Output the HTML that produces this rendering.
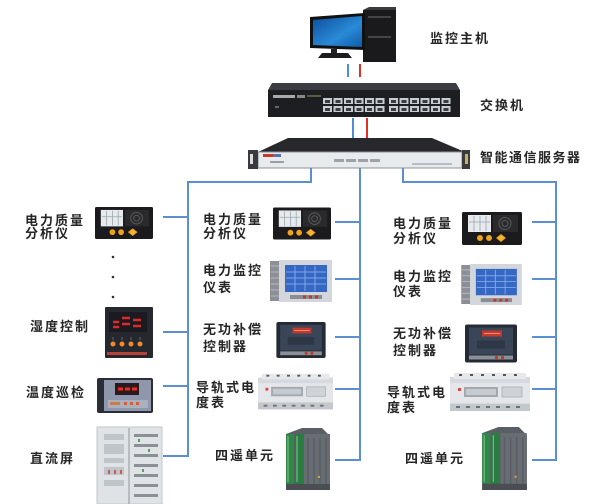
<!DOCTYPE html>
<html><head><meta charset="utf-8"><style>
html,body{margin:0;padding:0;background:#fff;}
svg{display:block;}
.t{font-family:"Liberation Sans","Noto Sans CJK SC",sans-serif;font-size:13px;font-weight:bold;fill:#262626;letter-spacing:2px;}
</style></head><body>
<svg width="613" height="504" viewBox="0 0 613 504" xmlns="http://www.w3.org/2000/svg">
<defs>
<linearGradient id="scr" x1="0" y1="0" x2="1" y2="1"><stop offset="0" stop-color="#0b4f9c"/><stop offset="0.6" stop-color="#2a8ad6"/><stop offset="1" stop-color="#0d5aa8"/></linearGradient>
<symbol id="ana" viewBox="0 0 60 33">
<rect x="0" y="0" width="60" height="33" rx="1.5" fill="#1b1b1d"/>
<rect x="6" y="3" width="23" height="17" fill="#e6eaee"/>
<path d="M12 4v15M18 4v15M24 4v15M7 10h21" stroke="#9aa4ae" stroke-width="0.8"/>
<rect x="31" y="3" width="25" height="17" fill="#2a2a2c"/>
<circle cx="43" cy="11.5" r="6" fill="none" stroke="#5a5a5c" stroke-width="1"/>
<circle cx="43" cy="11.5" r="3" fill="none" stroke="#5a5a5c" stroke-width="1"/>
<circle cx="18" cy="26" r="3" fill="#f0a21e"/>
<circle cx="27" cy="26" r="3" fill="#f0a21e"/>
<path d="M34 26l5-4 5 4-5 4z" fill="#f0a21e"/>
<circle cx="39" cy="26" r="2.5" fill="#f7b531"/>
</symbol>
<symbol id="mon" viewBox="0 0 62 42">
<rect x="0" y="1" width="10" height="40" fill="#8c9096"/>
<path d="M1 6h8M1 12h8M1 18h8M1 24h8M1 30h8M1 36h8" stroke="#b6b9bd" stroke-width="1"/>
<rect x="9" y="0" width="53" height="42" fill="#d3d6da"/>
<rect x="15" y="5" width="42" height="27" fill="#3567c4"/>
<path d="M25 6v25M35 6v25M45 6v25M16 12h40M16 18h40M16 24h40" stroke="#7fa6e6" stroke-width="1"/>
<rect x="20" y="35" width="32" height="4" fill="#8a8d92"/>
<rect x="33" y="35.5" width="3" height="3" fill="#c8352c"/><rect x="39" y="35.5" width="3" height="3" fill="#c8352c"/><rect x="45" y="35.5" width="3" height="3" fill="#c8352c"/>
</symbol>
<symbol id="rea" viewBox="0 0 52 38">
<rect x="0" y="0" width="52" height="38" rx="2" fill="#252b35"/>
<rect x="4" y="3" width="44" height="27" fill="#3a4658"/>
<rect x="17" y="6" width="20" height="6" fill="#c23a2e"/>
<path d="M19 9h16" stroke="#ff8a70" stroke-width="1"/>
<rect x="12" y="16" width="28" height="8" fill="#2d3746"/>
<rect x="4" y="31" width="44" height="4" fill="#8b8f96"/>
<rect x="30" y="31.5" width="3" height="3" fill="#c8352c"/><rect x="36" y="31.5" width="3" height="3" fill="#c8352c"/>
</symbol>
<symbol id="din" viewBox="0 0 80 40">
<rect x="0" y="4" width="80" height="34" fill="#d6d9de"/>
<rect x="4" y="0" width="72" height="6" fill="#e6e8eb"/>
<path d="M9 2h3M20 2h3M31 2h3M42 2h3M53 2h3M64 2h3" stroke="#555" stroke-width="2"/>
<rect x="0" y="10" width="80" height="20" fill="#e4e6e9"/>
<rect x="14" y="14" width="34" height="10" fill="#a3a9b0"/>
<rect x="16" y="16" width="30" height="6" fill="#c7cbd0"/>
<rect x="52" y="14" width="20" height="10" fill="#cfd2d6" stroke="#9aa0a6" stroke-width="0.6"/>
<rect x="8" y="15" width="3" height="3" fill="#d44"/>
<rect x="0" y="31" width="80" height="7" fill="#c4c8cd"/>
<path d="M6 34h4M16 34h4M26 34h4M36 34h4M46 34h4M56 34h4M66 34h4" stroke="#6d7278" stroke-width="2"/>
</symbol>
<symbol id="rtu" viewBox="0 0 48 62">
<path d="M4 6L20 0H40L48 8V62H4Z" fill="#5a5f66"/>
<rect x="22" y="6" width="26" height="56" fill="#686d74"/>
<path d="M26 10v48M32 10v48M38 10v48M44 10v48" stroke="#5a5e64" stroke-width="1.5"/>
<rect x="4" y="6" width="8" height="50" fill="#2f8847"/>
<rect x="13" y="6" width="8" height="50" fill="#2a7c41"/>
<path d="M6 8v46M15 8v46" stroke="#6fbf7f" stroke-width="1.2"/>
<rect x="4" y="56" width="44" height="6" fill="#4a4e54"/>
<rect x="36" y="48" width="2" height="2" fill="#e6a020"/>
</symbol>
</defs>

<!-- computer -->
<rect x="363" y="10" width="33" height="52" fill="#1a1a1c"/>
<path d="M363 10l6-3h27v3z" fill="#3a3a3e"/>
<rect x="368" y="16" width="23" height="2" fill="#444"/>
<rect x="368" y="36" width="23" height="2" fill="#444"/>
<path d="M310 17L365 13V50L310 48Z" fill="#111"/>
<path d="M313 20L362 16V47L313 45Z" fill="url(#scr)"/>
<rect x="331" y="49" width="6" height="6" fill="#222"/>
<path d="M318 58L322 53H348L352 58Z" fill="#1d1d1f"/>
<line x1="348" y1="64" x2="348" y2="77" stroke="#4b8fd8" stroke-width="2"/>
<line x1="360" y1="64" x2="360" y2="77" stroke="#e0302a" stroke-width="2"/>

<!-- switch -->
<path d="M272 83H456L460 90H268Z" fill="#3b3d42"/>
<rect x="268" y="90" width="192" height="27" fill="#1c1e21"/>
<rect x="273" y="95" width="22" height="3" fill="#aaa"/>
<rect x="297" y="95" width="8" height="3" fill="#888"/>
<rect x="307" y="95" width="14" height="2" fill="#5a5c3a"/>
<rect x="275" y="106" width="4" height="2" fill="#666"/>
<g fill="#c9cdd1">
<rect x="323" y="98" width="9" height="6"/><rect x="333.5" y="98" width="9" height="6"/><rect x="344" y="98" width="9" height="6"/><rect x="354.5" y="98" width="9" height="6"/><rect x="365" y="98" width="9" height="6"/><rect x="375.5" y="98" width="9" height="6"/>
<rect x="323" y="106" width="9" height="6"/><rect x="333.5" y="106" width="9" height="6"/><rect x="344" y="106" width="9" height="6"/><rect x="354.5" y="106" width="9" height="6"/><rect x="365" y="106" width="9" height="6"/><rect x="375.5" y="106" width="9" height="6"/>
<rect x="389" y="98" width="9" height="6"/><rect x="399.5" y="98" width="9" height="6"/><rect x="410" y="98" width="9" height="6"/><rect x="420.5" y="98" width="9" height="6"/><rect x="431" y="98" width="9" height="6"/><rect x="441.5" y="98" width="9" height="6"/>
<rect x="389" y="106" width="9" height="6"/><rect x="399.5" y="106" width="9" height="6"/><rect x="410" y="106" width="9" height="6"/><rect x="420.5" y="106" width="9" height="6"/><rect x="431" y="106" width="9" height="6"/><rect x="441.5" y="106" width="9" height="6"/>
</g>
<g fill="#3a3d42">
<rect x="325" y="100" width="5" height="3"/><rect x="335.5" y="100" width="5" height="3"/><rect x="346" y="100" width="5" height="3"/><rect x="356.5" y="100" width="5" height="3"/><rect x="367" y="100" width="5" height="3"/><rect x="377.5" y="100" width="5" height="3"/>
<rect x="391" y="100" width="5" height="3"/><rect x="401.5" y="100" width="5" height="3"/><rect x="412" y="100" width="5" height="3"/><rect x="422.5" y="100" width="5" height="3"/><rect x="433" y="100" width="5" height="3"/><rect x="443.5" y="100" width="5" height="3"/>
<rect x="325" y="108" width="5" height="3"/><rect x="335.5" y="108" width="5" height="3"/><rect x="346" y="108" width="5" height="3"/><rect x="356.5" y="108" width="5" height="3"/><rect x="367" y="108" width="5" height="3"/><rect x="377.5" y="108" width="5" height="3"/>
<rect x="391" y="108" width="5" height="3"/><rect x="401.5" y="108" width="5" height="3"/><rect x="412" y="108" width="5" height="3"/><rect x="422.5" y="108" width="5" height="3"/><rect x="433" y="108" width="5" height="3"/><rect x="443.5" y="108" width="5" height="3"/>
</g>
<line x1="353" y1="118" x2="353" y2="140" stroke="#4b8fd8" stroke-width="2"/>
<line x1="367" y1="118" x2="367" y2="140" stroke="#e0302a" stroke-width="2"/>

<!-- server -->
<path d="M288 138H432L465 152H258Z" fill="#26282c"/>
<rect x="258" y="152" width="204" height="16" fill="#e8ebee" stroke="#8d9197" stroke-width="1"/>
<rect x="248" y="150" width="10" height="19" fill="#3a3b3e"/>
<rect x="462" y="150" width="8" height="19" fill="#3a3b3e"/>
<rect x="250" y="154" width="3" height="10" fill="#ddd"/>
<rect x="465" y="154" width="3" height="10" fill="#c9b25a"/>
<rect x="263" y="154" width="10" height="3" fill="#c0392b"/>
<rect x="273" y="154" width="8" height="3" fill="#5a6fae"/>
<rect x="270" y="161" width="14" height="2" fill="#9a9ea5"/>
<g fill="#9ea3aa"><rect x="334" y="159" width="10" height="3"/><rect x="346" y="159" width="10" height="3"/><rect x="358" y="159" width="10" height="3"/><rect x="370" y="159" width="10" height="3"/></g>
<rect x="412" y="163" width="40" height="2" fill="#b9bdc2"/>

<!-- connectors -->
<g stroke="#5b8fd4" stroke-width="2" fill="none">
<path d="M311 168V182H188V457"/>
<path d="M163 217H188M163 332H188M163 386H188M163 456H188"/>
<path d="M360 168V461"/>
<path d="M335 222H360M335 279H360M335 337H360M335 389H360M335 460H360"/>
<path d="M403 168V182H556V461"/>
<path d="M532 222H556M532 279H556M532 337H556M532 389H556M532 460H556"/>
</g>

<!-- left column devices -->
<use href="#ana" x="95" y="207" width="58" height="32" preserveAspectRatio="none"/>
<g fill="#333"><circle cx="113" cy="257" r="1.3"/><circle cx="113" cy="277" r="1.3"/><circle cx="113" cy="297" r="1.3"/></g>
<!-- humidity controller -->
<rect x="105" y="307" width="48" height="51" rx="1" fill="#25282f"/>
<rect x="109" y="312" width="38" height="20" fill="#1a1a20"/>
<path d="M113 322h6M113 327h6M122 318h8M122 324h8M133 320h8M133 326h8" stroke="#e02a2a" stroke-width="2.5"/>
<g fill="#f08a2a"><circle cx="113" cy="344" r="2.5"/><circle cx="122" cy="344" r="2.5"/><circle cx="131" cy="344" r="2.5"/><circle cx="140" cy="344" r="2.5"/></g>
<path d="M113 337v3M122 337v3M131 337v3M140 337v3" stroke="#666" stroke-width="1"/>
<rect x="107" y="352" width="40" height="3" fill="#b8403a"/>
<!-- temperature -->
<rect x="97" y="378" width="56" height="35" rx="2" fill="#2b2e36"/>
<rect x="104" y="380" width="47" height="31" fill="#8e97ab"/>
<rect x="115" y="383" width="24" height="12" fill="#2a1a1c"/>
<path d="M118 389h5M125 389h5M132 389h5" stroke="#f02a22" stroke-width="3"/>
<rect x="108" y="400" width="40" height="8" fill="#a9b0c0"/>
<g fill="#e05a30"><rect x="124" y="402" width="3" height="3"/><rect x="130" y="402" width="3" height="3"/><rect x="136" y="402" width="3" height="3"/></g>
<rect x="110" y="402" width="10" height="3" fill="#d07a40"/>
<!-- DC cabinet -->
<rect x="97" y="427" width="65" height="77" fill="#dfe3e5" stroke="#c2c7ca" stroke-width="1"/>
<line x1="129" y1="428" x2="129" y2="504" stroke="#a9aeb2" stroke-width="1.5"/>
<g fill="#bfc6c9"><rect x="104" y="434" width="20" height="6"/><rect x="104" y="444" width="20" height="10"/><rect x="104" y="458" width="20" height="5"/><rect x="104" y="467" width="20" height="8"/><rect x="104" y="480" width="20" height="6"/></g>
<g fill="#c06060"><rect x="108" y="470" width="2" height="4"/><rect x="114" y="470" width="2" height="4"/><rect x="120" y="470" width="2" height="4"/></g>
<g fill="#8a9196"><rect x="134" y="434" width="24" height="3"/><rect x="134" y="444" width="24" height="3"/><rect x="134" y="454" width="24" height="3"/><rect x="134" y="464" width="24" height="3"/><rect x="134" y="474" width="24" height="3"/><rect x="134" y="484" width="24" height="3"/><rect x="134" y="494" width="24" height="3"/></g>
<g fill="#5c9c5c"><rect x="138" y="439" width="2" height="3"/><rect x="148" y="449" width="2" height="3"/><rect x="142" y="469" width="2" height="3"/></g>

<!-- middle column devices -->
<use href="#ana" x="273" y="207" width="58" height="33" preserveAspectRatio="none"/>
<use href="#mon" x="270" y="260" width="62" height="42" preserveAspectRatio="none"/>
<use href="#rea" x="275" y="322" width="52" height="36" preserveAspectRatio="none"/>
<use href="#din" x="258" y="373" width="75" height="39" preserveAspectRatio="none"/>
<use href="#rtu" x="282" y="428" width="48" height="62" preserveAspectRatio="none"/>

<!-- right column devices -->
<use href="#ana" x="462" y="212" width="60" height="33" preserveAspectRatio="none"/>
<use href="#mon" x="460" y="264" width="63" height="41" preserveAspectRatio="none"/>
<use href="#rea" x="465" y="324" width="52" height="39" preserveAspectRatio="none"/>
<use href="#din" x="448" y="373" width="84" height="40" preserveAspectRatio="none"/>
<use href="#rtu" x="478" y="427" width="49" height="63" preserveAspectRatio="none"/>

<!-- labels -->
<text class="t" x="430" y="43">监控主机</text>
<text class="t" x="480" y="110">交换机</text>
<text class="t" x="480" y="162" style="letter-spacing:1.5px">智能通信服务器</text>

<text class="t" x="25" y="225">电力质量</text>
<text class="t" x="25" y="238">分析仪</text>
<text class="t" x="30" y="331">湿度控制</text>
<text class="t" x="26" y="397">温度巡检</text>
<text class="t" x="30" y="463">直流屏</text>

<text class="t" x="203" y="224">电力质量</text>
<text class="t" x="203" y="238">分析仪</text>
<text class="t" x="203" y="275">电力监控</text>
<text class="t" x="203" y="292">仪表</text>
<text class="t" x="203" y="334">无功补偿</text>
<text class="t" x="203" y="351">控制器</text>
<text class="t" x="196" y="392">导轨式电</text>
<text class="t" x="196" y="407">度表</text>
<text class="t" x="215" y="460">四遥单元</text>

<text class="t" x="393" y="228">电力质量</text>
<text class="t" x="393" y="243">分析仪</text>
<text class="t" x="393" y="281">电力监控</text>
<text class="t" x="393" y="296">仪表</text>
<text class="t" x="393" y="338">无功补偿</text>
<text class="t" x="393" y="355">控制器</text>
<text class="t" x="387" y="397">导轨式电</text>
<text class="t" x="387" y="412">度表</text>
<text class="t" x="405" y="463">四遥单元</text>
</svg>
</body></html>
